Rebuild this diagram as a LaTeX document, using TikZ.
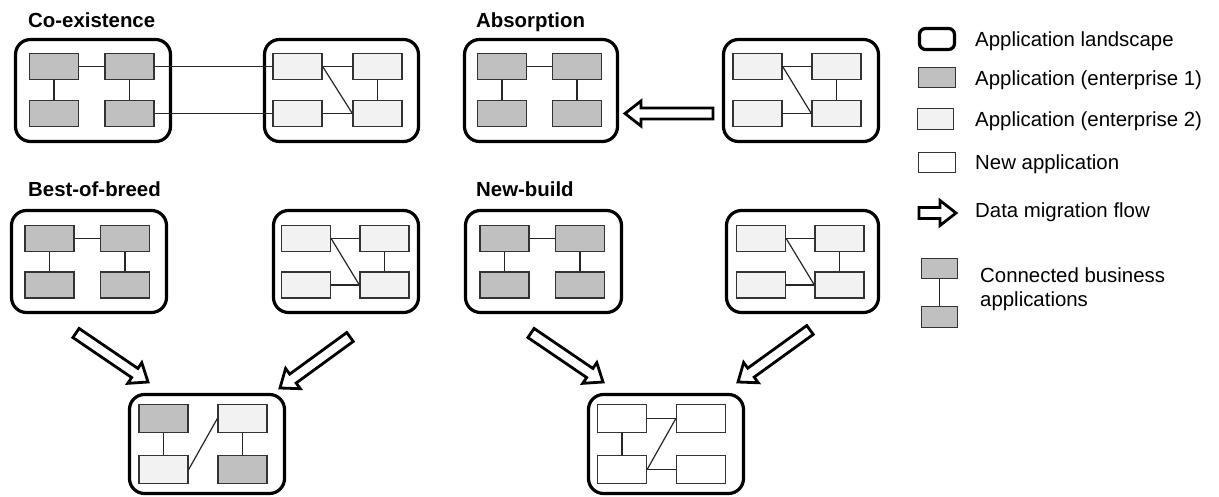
\documentclass[tikz,border=0pt]{standalone}
\usepackage{fontspec}
\setmainfont{Liberation Sans}
\usetikzlibrary{calc}
\definecolor{entone}{HTML}{C0C0C0}
\definecolor{enttwo}{HTML}{F2F2F2}
\definecolor{appedge}{HTML}{333333}
\tikzset{
 land/.style={draw=black, line width=3.2pt, rounded corners=15pt, inner sep=0pt},
 app/.style={draw=appedge, line width=1.3pt, minimum width=49pt, minimum height=26pt, inner sep=0pt},
 grayapp/.style={app, fill=entone},
 lightapp/.style={app, fill=enttwo},
 newapp/.style={app, fill=white},
 conn/.style={draw=black!85, line width=1.2pt},
 migr/.style={draw=black, line width=2.8pt, fill=white, line join=miter},
 titletext/.style={font=\fontsize{20.4}{24}\selectfont\bfseries, anchor=base west, inner sep=0pt},
 legtext/.style={font=\fontsize{20.4}{24}\selectfont, anchor=base west, inner sep=0pt},
}
\newcommand{\migarrow}[2]{%
  \coordinate (#1h) at ($(#2)!16pt!(#1)$);
  \draw[migr] ($(#1)!5.5pt!90:(#2)$) -- ($(#1h)!5.5pt!-90:(#1)$) -- ($(#1h)!12.5pt!-90:(#1)$) -- (#2)
    -- ($(#1h)!12.5pt!90:(#1)$) -- ($(#1h)!5.5pt!90:(#1)$) -- ($(#1)!5.5pt!-90:(#2)$) -- cycle;}
\begin{document}
\begin{tikzpicture}[x=1pt,y=-1pt]
\useasboundingbox (0,0) rectangle (1219,497);

% titles
\node[titletext] (t1) at (28,28) {Co-existence};
\node[titletext] (t2) at (476,28) {Absorption};
\node[titletext] (t3) at (28,197) {Best-of-breed};
\node[titletext] (t4) at (476,197) {New-build};

% ---- Co-existence
\node[land, minimum width=155pt, minimum height=102pt] (L1) at (93,90.5) {};
\node[grayapp] (a1) at (54,66.5) {};
\node[grayapp] (a2) at (129.5,66.5) {};
\node[grayapp] (a3) at (54,113.5) {};
\node[grayapp] (a4) at (129.5,113.5) {};
\draw[conn] (a1) -- (a2);
\draw[conn] (a1) -- (a3);
\draw[conn] (a2) -- (a4);

\node[land, minimum width=154pt, minimum height=102pt] (L2) at (341.5,90.5) {};
\node[lightapp] (b1) at (297.5,66.5) {};
\node[lightapp] (b2) at (377.5,66.5) {};
\node[lightapp] (b3) at (297.5,113.5) {};
\node[lightapp] (b4) at (377.5,113.5) {};
\draw[conn] (b1) -- (b2);
\draw[conn] (b3) -- (b4);
\draw[conn] (b2) -- (b4);
\draw[conn] (b1.east) -- (b4.west);
\draw[conn] (a2) -- (b1);
\draw[conn] (a4) -- (b3);

% ---- Absorption
\node[land, minimum width=153pt, minimum height=102pt] (L3) at (541,90.5) {};
\node[grayapp] (c1) at (502,66.5) {};
\node[grayapp] (c2) at (577,66.5) {};
\node[grayapp] (c3) at (502,113.5) {};
\node[grayapp] (c4) at (577,113.5) {};
\draw[conn] (c1) -- (c2);
\draw[conn] (c1) -- (c3);
\draw[conn] (c2) -- (c4);

\node[land, minimum width=155pt, minimum height=102pt] (L4) at (801,90.5) {};
\node[lightapp] (d1) at (757.5,66.5) {};
\node[lightapp] (d2) at (836.5,66.5) {};
\node[lightapp] (d3) at (757.5,113.5) {};
\node[lightapp] (d4) at (836.5,113.5) {};
\draw[conn] (d1) -- (d2);
\draw[conn] (d3) -- (d4);
\draw[conn] (d2) -- (d4);
\draw[conn] (d1.east) -- (d4.west);

\coordinate (ab1) at (713,113.5);
\coordinate (ab2) at (625,113.5);
\migarrow{ab1}{ab2}

% ---- Best-of-breed
\node[land, minimum width=155pt, minimum height=102pt] (L5) at (89,261.5) {};
\node[grayapp] (e1) at (49.5,238.5) {};
\node[grayapp] (e2) at (125,238.5) {};
\node[grayapp] (e3) at (49.5,285) {};
\node[grayapp] (e4) at (125,285) {};
\draw[conn] (e1) -- (e2);
\draw[conn] (e1) -- (e3);
\draw[conn] (e2) -- (e4);

\node[land, minimum width=145pt, minimum height=102pt] (L6) at (346,261.5) {};
\node[lightapp] (f1) at (306,238.5) {};
\node[lightapp] (f2) at (384.5,238.5) {};
\node[lightapp] (f3) at (306,285) {};
\node[lightapp] (f4) at (384.5,285) {};
\draw[conn] (f1) -- (f2);
\draw[conn] (f3) -- (f4);
\draw[conn] (f2) -- (f4);
\draw[conn] (f1.east) -- (f4.west);

\node[land, minimum width=155pt, minimum height=99pt] (L9) at (207,444) {};
\node[grayapp, minimum height=28pt] (g1) at (163.5,418.5) {};
\node[lightapp, minimum height=28pt] (g2) at (242.5,418.5) {};
\node[lightapp, minimum height=28pt] (g3) at (163.5,469.5) {};
\node[grayapp, minimum height=28pt] (g4) at (242.5,469.5) {};
\draw[conn] (g1) -- (g3);
\draw[conn] (g2) -- (g4);
\draw[conn] (g3.east) -- (g2.west);

\coordinate (bb1) at (76,333);
\coordinate (bb2) at (148,382);
\migarrow{bb1}{bb2}
\coordinate (bb3) at (350,337);
\coordinate (bb4) at (280,388);
\migarrow{bb3}{bb4}

% ---- New-build
\node[land, minimum width=156pt, minimum height=102pt] (L7) at (543.5,261.5) {};
\node[grayapp] (m1) at (504.5,238.5) {};
\node[grayapp] (m2) at (580,238.5) {};
\node[grayapp] (m3) at (504.5,285) {};
\node[grayapp] (m4) at (580,285) {};
\draw[conn] (m1) -- (m2);
\draw[conn] (m1) -- (m3);
\draw[conn] (m2) -- (m4);

\node[land, minimum width=152pt, minimum height=102pt] (L8) at (802.5,261.5) {};
\node[lightapp] (n1) at (761,238.5) {};
\node[lightapp] (n2) at (839.5,238.5) {};
\node[lightapp] (n3) at (761,285) {};
\node[lightapp] (n4) at (839.5,285) {};
\draw[conn] (n1) -- (n2);
\draw[conn] (n3) -- (n4);
\draw[conn] (n2) -- (n4);
\draw[conn] (n1.east) -- (n4.west);

\node[land, minimum width=155pt, minimum height=99pt] (L10) at (666,444) {};
\node[newapp, minimum height=28pt] (h1) at (622,418.5) {};
\node[newapp, minimum height=28pt] (h2) at (701,418.5) {};
\node[newapp, minimum height=28pt] (h3) at (622,469.5) {};
\node[newapp, minimum height=28pt] (h4) at (701,469.5) {};
\draw[conn] (h1) -- (h2);
\draw[conn] (h1) -- (h3);
\draw[conn] (h3) -- (h4);
\draw[conn] (h3.east) -- (h2.west);

\coordinate (nb1) at (531,333);
\coordinate (nb2) at (603,382);
\migarrow{nb1}{nb2}
\coordinate (nb3) at (810,330);
\coordinate (nb4) at (738,382);
\migarrow{nb3}{nb4}

% ---- Legend
\node[land, rounded corners=6pt, minimum width=35pt, minimum height=21pt] (lg1) at (937,39) {};
\node[legtext] (lt1) at (975,47) {Application landscape};
\node[grayapp, minimum width=37pt, minimum height=20pt] (lg2) at (937,77.5) {};
\node[legtext] (lt2) at (975,86) {Application (enterprise 1)};
\node[lightapp, minimum width=36pt, minimum height=21pt] (lg3) at (935.5,119) {};
\node[legtext] (lt3) at (975,127) {Application (enterprise 2)};
\node[newapp, minimum width=37pt, minimum height=20pt] (lg4) at (937,162.5) {};
\node[legtext] (lt4) at (975,170) {New application};
\coordinate (lg5a) at (919,213);
\coordinate (lg5b) at (956,213);
\migarrow{lg5a}{lg5b}
\node[legtext] (lt5) at (975,218) {Data migration flow};
\node[grayapp, minimum width=36pt, minimum height=20pt] (k1) at (939.5,268.5) {};
\node[grayapp, minimum width=36pt, minimum height=21pt] (k2) at (939.5,317) {};
\draw[conn] (k1) -- (k2);
\node[legtext] (lt6) at (980,283) {Connected business};
\node[legtext] (lt7) at (980,306) {applications};
\end{tikzpicture}
\end{document}
